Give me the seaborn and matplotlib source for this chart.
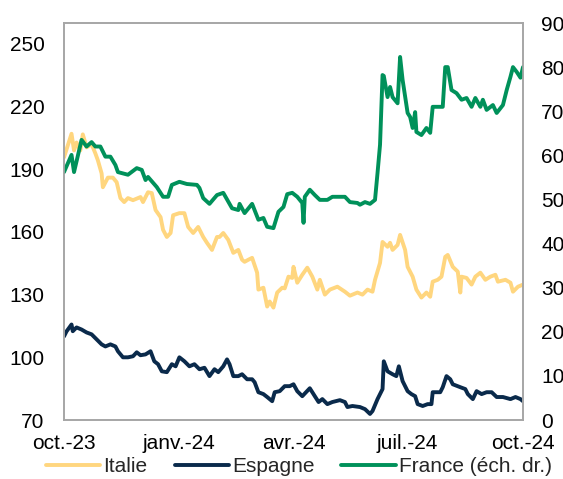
import matplotlib
matplotlib.use("Agg")
import matplotlib.pyplot as plt
import seaborn as sns
import pandas as pd

# ---- data ----
france_dates = ["2023-10-01","2023-10-07","2023-10-09","2023-10-15","2023-10-19","2023-10-23","2023-10-26","2023-10-30",
    "2023-11-03","2023-11-07","2023-11-11","2023-11-13","2023-11-21","2023-11-28","2023-12-02","2023-12-05","2023-12-07",
    "2023-12-14","2023-12-19","2023-12-23","2023-12-26","2024-01-01","2024-01-07","2024-01-15","2024-01-17","2024-01-20",
    "2024-01-25","2024-01-31","2024-02-05","2024-02-12","2024-02-17","2024-02-18","2024-02-22","2024-02-28","2024-03-04",
    "2024-03-08","2024-03-11","2024-03-16","2024-03-20","2024-03-24","2024-03-27","2024-03-31","2024-04-04","2024-04-08",
    "2024-04-09","2024-04-10","2024-04-14","2024-04-18","2024-04-22","2024-04-28","2024-05-02","2024-05-08","2024-05-12",
    "2024-05-16","2024-05-22","2024-05-24","2024-05-28","2024-06-01","2024-06-05","2024-06-07","2024-06-09","2024-06-11",
    "2024-06-12","2024-06-15","2024-06-17","2024-06-19","2024-06-23","2024-06-25","2024-06-27","2024-07-01","2024-07-03",
    "2024-07-05","2024-07-07","2024-07-08","2024-07-12","2024-07-16","2024-07-19","2024-07-21","2024-07-27","2024-07-29",
    "2024-07-31","2024-08-02","2024-08-05","2024-08-09","2024-08-13","2024-08-17","2024-08-21","2024-08-24","2024-08-28",
    "2024-08-30","2024-09-02","2024-09-07","2024-09-10","2024-09-15","2024-09-18","2024-09-21","2024-09-23","2024-09-26",
    "2024-09-29","2024-10-01"]
france_values = [56.2,60.1,56.2,63.5,62,63,62,62,
    59.7,59.7,57.8,56.2,55.6,57.1,56.7,54.4,55.1,
    52.8,50.6,50.6,53.3,54,53.5,53.3,52.6,50.3,
    49,51,51.5,48,47.6,49,46.9,49,45.4,
    45.8,43.8,43.5,47.2,48.3,51.2,51.5,50.6,49.2,
    44.7,50.6,52.2,51,49.9,49.9,50.6,50.6,50.6,
    49.4,49.2,48.8,49.4,49,49.9,56,62.4,78.2,
    78,73.2,75.5,73.2,71.8,82.3,77.1,69.6,68.7,
    66.2,69.8,65.3,64.6,66.2,65.1,71,71,71,
    80,80,74.8,74.1,72.6,73,71,73,71,
    72.6,70.3,71.4,69.6,71.4,74.8,77.8,80,78.9,
    77.6,80]

italie_dates = ["2023-10-01","2023-10-07","2023-10-09","2023-10-11","2023-10-14","2023-10-16","2023-10-19","2023-10-23",
    "2023-10-26","2023-10-28","2023-10-31","2023-11-01","2023-11-05","2023-11-09","2023-11-12","2023-11-15","2023-11-18",
    "2023-11-21","2023-11-25","2023-12-01","2023-12-03","2023-12-07","2023-12-10","2023-12-13","2023-12-17","2023-12-19",
    "2023-12-22","2023-12-25","2023-12-27","2024-01-01","2024-01-05","2024-01-08","2024-01-12","2024-01-16","2024-01-20",
    "2024-01-23","2024-01-27","2024-01-31","2024-02-02","2024-02-05","2024-02-09","2024-02-13","2024-02-17","2024-02-20",
    "2024-02-22","2024-02-25","2024-02-28","2024-03-03","2024-03-04","2024-03-08","2024-03-11","2024-03-13","2024-03-16",
    "2024-03-19","2024-03-23","2024-03-25","2024-03-28","2024-03-31","2024-04-01","2024-04-04","2024-04-08","2024-04-12",
    "2024-04-16","2024-04-20","2024-04-22","2024-04-26","2024-04-30","2024-05-06","2024-05-12","2024-05-16","2024-05-22",
    "2024-05-26","2024-05-30","2024-06-03","2024-06-05","2024-06-09","2024-06-11","2024-06-15","2024-06-17","2024-06-19",
    "2024-06-23","2024-06-25","2024-06-29","2024-07-01","2024-07-05","2024-07-08","2024-07-12","2024-07-16","2024-07-19",
    "2024-07-21","2024-07-25","2024-07-28","2024-07-31","2024-08-02","2024-08-06","2024-08-10","2024-08-12","2024-08-13",
    "2024-08-17","2024-08-21","2024-08-24","2024-08-28","2024-09-01","2024-09-05","2024-09-09","2024-09-11","2024-09-17",
    "2024-09-21","2024-09-23","2024-09-27","2024-10-01"]
italie_values = [195.7,207,199,202.8,199,206.7,200.5,202,
    197.6,194.3,188,181.4,186,186,183.8,176.2,174.3,
    176.2,175.2,176.7,174.3,179,178.6,170.5,167.1,161,
    157.6,159.5,168,169,169,162.4,159.5,162.4,157.6,
    154.8,151.4,157.6,157.6,159.5,156.2,150,151.4,146.7,
    145.7,146.7,147.6,140.5,132.4,133.3,124.3,126.7,123.8,
    131,133.3,133,138.6,138,143.3,135.7,139.5,142.9,
    138.6,132.4,137.1,130,132.4,133.8,131.4,129.5,131,
    130,132.4,131.4,137.1,145.2,155.2,152.9,154.8,151.4,
    153.8,158.6,151.4,143.3,138.6,132.4,128.6,131,129,
    136.2,137.1,138.6,148.1,149,143.3,141,131,138.6,
    138,134.8,138.6,140.5,137.1,138.6,139.5,136.2,137.1,
    135.7,131.4,133.8,134.8]

espagne_dates = ["2023-10-01","2023-10-03","2023-10-07","2023-10-08","2023-10-11","2023-10-15","2023-10-19","2023-10-23",
    "2023-10-27","2023-10-31","2023-11-03","2023-11-07","2023-11-11","2023-11-13","2023-11-17","2023-11-21","2023-11-25",
    "2023-11-28","2023-12-01","2023-12-05","2023-12-09","2023-12-12","2023-12-15","2023-12-18","2023-12-22","2023-12-26",
    "2023-12-29","2024-01-01","2024-01-05","2024-01-09","2024-01-13","2024-01-17","2024-01-21","2024-01-25","2024-01-29",
    "2024-02-01","2024-02-05","2024-02-08","2024-02-10","2024-02-13","2024-02-17","2024-02-20","2024-02-24","2024-02-28",
    "2024-03-01","2024-03-04","2024-03-08","2024-03-11","2024-03-15","2024-03-17","2024-03-21","2024-03-25","2024-03-29",
    "2024-04-01","2024-04-04","2024-04-08","2024-04-14","2024-04-18","2024-04-21","2024-04-24","2024-04-28","2024-05-02",
    "2024-05-08","2024-05-12","2024-05-14","2024-05-18","2024-05-24","2024-05-28","2024-06-01","2024-06-03","2024-06-07",
    "2024-06-11","2024-06-12","2024-06-15","2024-06-19","2024-06-22","2024-06-24","2024-06-27","2024-07-01","2024-07-04",
    "2024-07-07","2024-07-09","2024-07-13","2024-07-17","2024-07-20","2024-07-21","2024-07-27","2024-07-29","2024-08-01",
    "2024-08-04","2024-08-06","2024-08-12","2024-08-16","2024-08-18","2024-08-22","2024-08-25","2024-08-29","2024-09-02",
    "2024-09-06","2024-09-10","2024-09-15","2024-09-21","2024-09-25","2024-09-29","2024-10-01"]
espagne_values = [110,112.4,115.7,112.5,114.3,113.3,111.9,111,
    108.6,106.2,105.2,106.2,105.2,102.9,100,100,100.5,
    102.4,101,101.4,102.9,98.1,96.7,93.3,92.9,96.7,
    95.7,100,98.1,95.7,96.7,94.3,95,91,94.3,
    92.9,95.7,99,96.7,91,91,91.9,89.5,89.5,
    88.1,83.3,82.4,81,79,83.3,83.8,86.2,86.2,
    87.1,83.8,81.4,85.2,81.4,78.6,80,77.6,78.6,
    79.5,78.6,76.2,76.7,76.2,75.2,72.9,74.3,80,
    84.8,98.1,93.3,91.9,91,95.7,88.6,83.8,82.4,
    81.4,77.6,76.7,77.6,77.6,83.3,83.3,85.7,91,
    89.5,87.1,85.7,84.8,82.4,80,83.8,82.4,83.3,
    83.3,81,81,80,81,80,79]

tick_dates = ["2023-10-01","2024-01-01","2024-04-01","2024-07-01","2024-10-01"]
tick_labels = ["oct.-23","janv.-24","avr.-24","juil.-24","oct.-24"]
left_ticks = [70,100,130,160,190,220,250]
right_ticks = [0,10,20,30,40,50,60,70,80,90]

df_fr = pd.DataFrame({"date": pd.to_datetime(france_dates), "v": france_values})
df_it = pd.DataFrame({"date": pd.to_datetime(italie_dates), "v": italie_values})
df_es = pd.DataFrame({"date": pd.to_datetime(espagne_dates), "v": espagne_values})

sns.set_style("white")
plt.rcParams['font.family'] = ['Liberation Sans', 'DejaVu Sans']

c_it = "#FFD67F"
c_es = "#0A2A4B"
c_fr = "#00915A"
lw = 2.8
fs = 15

fig = plt.figure(figsize=(5.63, 4.79), dpi=100)
ax = fig.add_axes([64/563, 1-420/479, (523-64)/563, (420-23)/479])
ax2 = ax.twinx()

sns.lineplot(data=df_it, x="date", y="v", ax=ax, color=c_it, linewidth=lw, label="Italie", legend=False)
sns.lineplot(data=df_es, x="date", y="v", ax=ax, color=c_es, linewidth=lw, label="Espagne", legend=False)
sns.lineplot(data=df_fr, x="date", y="v", ax=ax2, color=c_fr, linewidth=lw, label="France (éch. dr.)", legend=False)

ax.set_ylim(70, 260)
ax2.set_ylim(0, 90)
ax.set_yticks(left_ticks)
ax2.set_yticks(right_ticks)
ax.set_xlim(pd.Timestamp("2023-10-01"), pd.Timestamp("2024-10-01"))
ax.set_xticks(pd.to_datetime(tick_dates))
ax.set_xticklabels(tick_labels)
for a in (ax, ax2):
    a.set_xlabel("")
    a.set_ylabel("")
    a.tick_params(axis="both", length=0, labelsize=fs, colors="#000000")
    for s in a.spines.values():
        s.set_color("#A6A6A6")
        s.set_linewidth(1.2)
ax.tick_params(axis="y", pad=14)
ax2.tick_params(axis="y", pad=13)
ax.tick_params(axis="x", pad=10)

h1, l1 = ax.get_legend_handles_labels()
h2, l2 = ax2.get_legend_handles_labels()
fig.legend(h1 + h2, l1 + l2, loc="center", bbox_to_anchor=(0.531, 0.026), ncol=3, frameon=False,
           fontsize=fs, handlelength=2.6, handletextpad=0.15, columnspacing=1.3, borderaxespad=0)

fig.savefig("out.png", dpi=100)
